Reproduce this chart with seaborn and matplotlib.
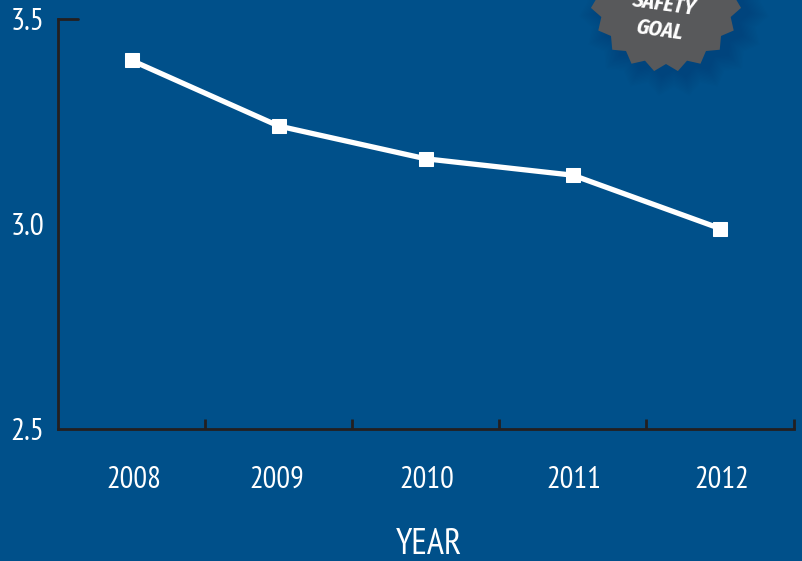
import numpy as np
import pandas as pd
import matplotlib
matplotlib.use("Agg")
import matplotlib.pyplot as plt
from matplotlib.patches import Polygon
from matplotlib.transforms import Affine2D
import seaborn as sns

years = ["2008", "2009", "2010", "2011", "2012"]
rates = [3.40, 3.24, 3.16, 3.12, 2.99]
y_ticks = [2.5, 3.0, 3.5]
x_title = "YEAR"
badge_lines = ["SAFETY", "GOAL"]

NAVY = "#00508A"
INK = "#231F20"
GREY = "#58595B"
NARROW = ["PT Sans Narrow", "Liberation Sans", "DejaVu Sans"]
BADGE_FONT = ["Fira Sans Condensed", "Liberation Sans", "DejaVu Sans"]

sns.set_theme(style="white")
plt.rcParams["font.family"] = NARROW

W, H = 803, 561
fig = plt.figure(figsize=(W / 100, H / 100), dpi=100, facecolor=NAVY)
ax = fig.add_axes([58 / W, 1 - 429.4 / H, 735.6 / W, 410 / H], facecolor=NAVY)

df = pd.DataFrame({"year": years, "rate": rates})
sns.lineplot(data=df, x="year", y="rate", ax=ax, color="white", linewidth=3.8,
             marker="s", markersize=9.5, markeredgecolor="white", sort=False)

ax.set_xlim(-0.5, 4.5)
ax.set_ylim(2.5, 3.5)
ax.set_xlabel("")
ax.set_ylabel("")
sns.despine(ax=ax)
for side in ("left", "bottom"):
    ax.spines[side].set_color(INK)
    ax.spines[side].set_linewidth(2)

# Ticks sit on the category boundaries, labels stay centred on each year
ax.set_xticks(np.arange(0.5, 4.6, 1), labels=[])
ax.tick_params(axis="x", direction="in", length=7.5, width=2, color=INK, bottom=True)
ax.set_yticks(y_ticks)
ax.set_yticklabels([f"{v:.1f}" for v in y_ticks], color="white", fontsize=22.5)
ax.tick_params(axis="y", direction="out", length=0, pad=10, left=False)
ax.plot([0, 20 / 735], [1, 1], transform=ax.transAxes, color=INK, lw=2, clip_on=False)

# Year labels carry small horizontal offsets from the category centres
label_shift = [1.5, -1.5, 1, 1, 1]
for i, label in enumerate(years):
    ax.annotate(label, (i, 0), xycoords=("data", "axes fraction"),
                xytext=(label_shift[i], -36.5), textcoords="offset points",
                ha="center", va="center", color="white", fontsize=22)
fig.text(429 / W, 1 - 544 / H, x_title, color="white", fontsize=26,
         ha="center", va="center")

# Serrated badge in the top corner, with a soft drop shadow
cx, cy, n_teeth = 666, -4, 20
angles = np.linspace(0, 2 * np.pi, 2 * n_teeth, endpoint=False) + np.pi / 2 + np.pi / n_teeth
radii = np.where(np.arange(2 * n_teeth) % 2 == 0, 76, 68)
pts = np.column_stack([cx + radii * np.cos(angles), H - (cy + radii * np.sin(angles))])
pix = Affine2D().scale(1 / W, 1 / H) + fig.transFigure
for grow in np.linspace(20, 1, 12):
    centre = np.array([cx + 8, H - cy - 5])
    scaled = centre + (pts - np.array([cx, H - cy])) * (1 + grow / 76)
    fig.add_artist(Polygon(scaled, closed=True, transform=pix, fc="#002E55",
                           ec="none", alpha=0.02))
fig.add_artist(Polygon(pts, closed=True, transform=pix, fc=GREY, ec="none"))
for line, (tx, ty) in zip(badge_lines, [(664, 4), (660, 30)]):
    fig.text(tx / W, 1 - ty / H, line, color="white", fontsize=15.5, fontweight="bold",
             style="italic", family=BADGE_FONT, rotation=-8, rotation_mode="anchor",
             ha="center", va="center")

fig.savefig("out.png", dpi=100, facecolor=NAVY)
